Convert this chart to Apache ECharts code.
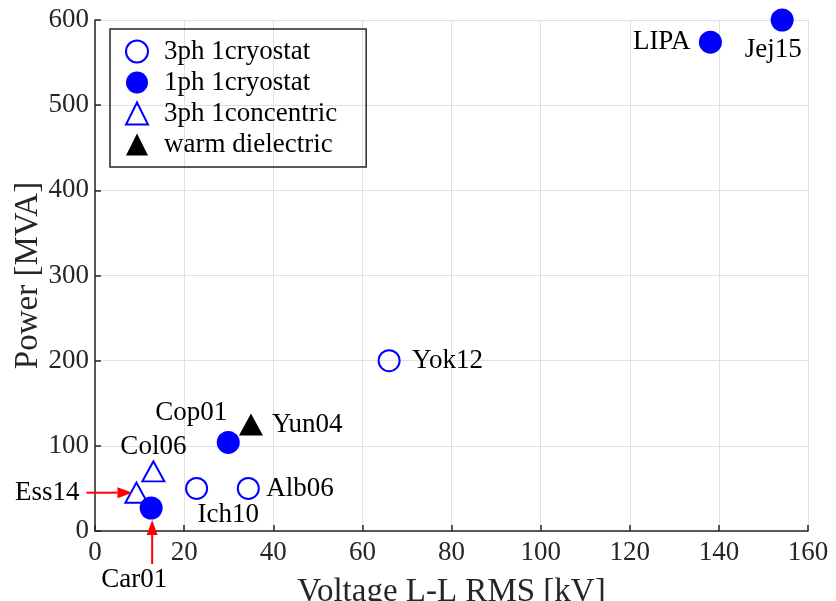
<!DOCTYPE html>
<html><head><meta charset="utf-8">
<script src="https://cdn.jsdelivr.net/npm/echarts@6/dist/echarts.min.js"></script>
<style>html,body{margin:0;padding:0;background:#fff}#c{width:836px;height:601px}</style>
</head><body><div id="c"></div>
<script>
// ---- data ----
const xTickMin = 0, xTickMax = 160, xTickStep = 20;
const yTickMin = 0, yTickMax = 600, yTickStep = 100;
const xAxisTitle = 'Voltage L-L RMS [kV]';
const yAxisTitle = 'Power [MVA]';
const seriesNames = ['3ph 1cryostat', '1ph 1cryostat', '3ph 1concentric', 'warm dielectric'];

const hollowCircleNames = ['Yok12', 'Ich10', 'Alb06'];
const hollowCircleX = [66, 22.8, 34.4];
const hollowCircleY = [200, 50, 50];

const filledCircleNames = ['LIPA', 'Jej15', 'Cop01', 'Car01'];
const filledCircleX = [138.1, 154.2, 29.9, 12.6];
const filledCircleY = [574, 600, 104, 27];

const hollowTriNames = ['Col06', 'Ess14'];
const hollowTriX = [13.1, 9.3];
const hollowTriY = [70, 45];

const warmNames = ['Yun04'];
const warmX = [35];
const warmY = [125];

// ---- label placement (styling, not data) ----
const labelPlace = {
  Yok12: {align: 'left', offset: [23, 0]},
  Yun04: {align: 'left', offset: [21, 0]},
  Alb06: {align: 'left', offset: [18, 0]},
  LIPA: {align: 'right', offset: [-20, 0]},
  Ess14: {align: 'right', offset: [-57, 0]},
  Jej15: {align: 'center', offset: [-9, 30]},
  Cop01: {align: 'center', offset: [-37, -30]},
  Col06: {align: 'center', offset: [0, -24]},
  Ich10: {align: 'left', offset: [1, 26]},
  Car01: {align: 'center', offset: [-17, 72]}
};

const FONT = '"Liberation Serif", "Times New Roman", serif';
const BLUE = '#0000ff';
const DARK = '#262626';

function build(names, xs, ys) {
  return names.map((n, i) => ({
    name: n,
    value: [xs[i], ys[i]],
    label: {
      show: true,
      formatter: n,
      position: 'inside',
      align: labelPlace[n].align,
      verticalAlign: 'middle',
      offset: labelPlace[n].offset,
      color: '#000',
      opacity: 1,
      fontFamily: FONT,
      fontSize: 27
    }
  }));
}

const chart = echarts.init(document.getElementById('c'), null, {renderer: 'canvas'});
const option = {
  animation: false,
  backgroundColor: '#fff',
  grid: {left: 95, right: 28, top: 20, bottom: 70, containLabel: false, outerBoundsMode: 'none'},
  xAxis: {
    type: 'value', min: xTickMin, max: xTickMax, interval: xTickStep,
    name: xAxisTitle, nameLocation: 'middle', nameGap: 45, nameMoveOverlap: false,
    nameTextStyle: {fontFamily: FONT, fontSize: 33, color: DARK},
    axisLine: {show: true, onZero: false, lineStyle: {color: DARK, width: 1.5}},
    axisTick: {show: true, inside: true, length: 6, lineStyle: {color: DARK, width: 1.5}},
    axisLabel: {fontFamily: FONT, fontSize: 27, color: DARK, margin: 8},
    splitLine: {show: true, lineStyle: {color: '#e0e0e0', width: 1}}
  },
  yAxis: {
    type: 'value', min: yTickMin, max: yTickMax, interval: yTickStep,
    name: yAxisTitle, nameLocation: 'middle', nameGap: 50, nameMoveOverlap: false,
    nameTextStyle: {fontFamily: FONT, fontSize: 33, color: DARK},
    axisLine: {show: true, onZero: false, lineStyle: {color: DARK, width: 1.5}},
    axisTick: {show: true, inside: true, length: 6, lineStyle: {color: DARK, width: 1.5}},
    axisLabel: {fontFamily: FONT, fontSize: 27, color: DARK, margin: 6},
    splitLine: {show: true, lineStyle: {color: '#e0e0e0', width: 1}}
  },
  legend: {
    orient: 'vertical', left: 110, top: 29,
    data: seriesNames,
    borderColor: DARK, borderWidth: 1.5, borderRadius: 0,
    padding: [9, 29, 9, 15],
    itemWidth: 22, itemHeight: 22, itemGap: 4,
    textStyle: {fontFamily: FONT, fontSize: 27, color: '#000', padding: [0, 0, 0, 11]}
  },
  series: [
    {
      name: seriesNames[0], type: 'scatter', symbol: 'circle', symbolSize: 21,
      itemStyle: {color: 'rgba(255,255,255,0)', borderColor: BLUE, borderWidth: 2, opacity: 1},
      data: build(hollowCircleNames, hollowCircleX, hollowCircleY), clip: false
    },
    {
      name: seriesNames[1], type: 'scatter', symbol: 'circle', symbolSize: 23, z: 3,
      itemStyle: {color: BLUE, borderWidth: 0, opacity: 1},
      data: build(filledCircleNames, filledCircleX, filledCircleY), clip: false
    },
    {
      name: seriesNames[2], type: 'scatter', symbol: 'triangle', symbolSize: [22, 20], z: 2,
      itemStyle: {color: 'rgba(255,255,255,0)', borderColor: BLUE, borderWidth: 2, opacity: 1},
      data: build(hollowTriNames, hollowTriX, hollowTriY), clip: false
    },
    {
      name: seriesNames[3], type: 'scatter', symbol: 'triangle', symbolSize: [24, 22],
      itemStyle: {color: '#000', opacity: 1},
      data: build(warmNames, warmX, warmY), clip: false
    }
  ]
};
chart.setOption(option);

// arrows pointing to Ess14 and Car01, derived from their plotted positions
function arrow(x1, y1, x2, y2) {
  const L = 15, W = 5.5;
  const dx = x2 - x1, dy = y2 - y1, len = Math.hypot(dx, dy);
  const ux = dx / len, uy = dy / len;
  const bx = x2 - ux * L, by = y2 - uy * L;
  return [
    {type: 'line', shape: {x1: x1, y1: y1, x2: bx, y2: by}, style: {stroke: '#ff0000', lineWidth: 2}, z: 10},
    {type: 'polygon', shape: {points: [[x2, y2], [bx - uy * W, by + ux * W], [bx + uy * W, by - ux * W]]}, style: {fill: '#ff0000'}, z: 10}
  ];
}
const ess = chart.convertToPixel({seriesIndex: 2}, [hollowTriX[1], hollowTriY[1]]);
const car = chart.convertToPixel({seriesIndex: 1}, [filledCircleX[3], filledCircleY[3]]);
chart.setOption({
  graphic: [].concat(
    arrow(ess[0] - 50, ess[1], ess[0] - 4, ess[1]),
    arrow(car[0] + 1, car[1] + 56, car[0] + 1, car[1] + 12)
  )
});
</script>
</body></html>
